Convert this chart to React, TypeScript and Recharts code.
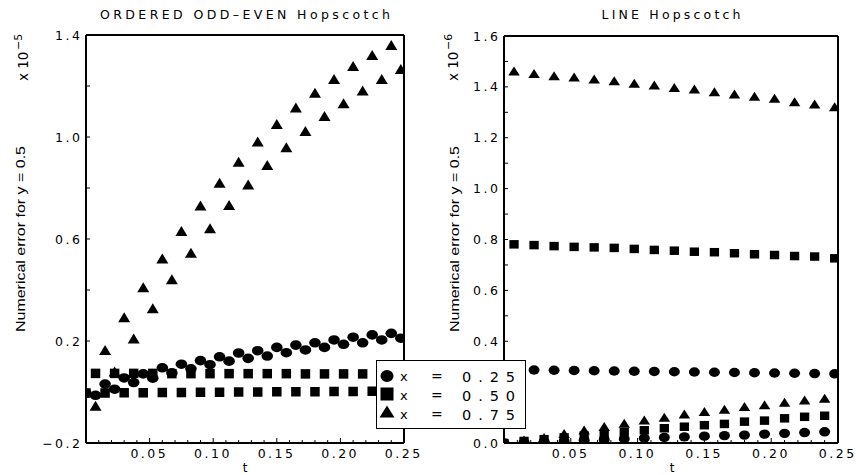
import React from 'react'
import { ScatterChart, Scatter, XAxis, YAxis, Legend } from 'recharts'

// time grid (both panels share it; odd/even steps alternate in hopscotch)
const T = [
  0, 0.0075, 0.015, 0.0225, 0.03, 0.0375, 0.045, 0.0525, 0.06, 0.0675, 0.075, 0.0825,
  0.09, 0.0975, 0.105, 0.1125, 0.12, 0.1275, 0.135, 0.1425, 0.15, 0.1575, 0.165, 0.1725,
  0.18, 0.1875, 0.195, 0.2025, 0.21, 0.2175, 0.225, 0.2325, 0.24, 0.2475
]

// ORDERED ODD-EVEN Hopscotch, error x 10^-5
const LEFT_X025 = [
  -0.005, -0.013, 0.031, 0.011, 0.055, 0.037, 0.071, 0.054, 0.095, 0.075, 0.109, 0.091,
  0.123, 0.107, 0.138, 0.121, 0.153, 0.132, 0.162, 0.141, 0.175, 0.154, 0.184, 0.165,
  0.193, 0.175, 0.204, 0.187, 0.215, 0.193, 0.224, 0.204, 0.23, 0.211
]
const LEFT_X050 = [
  -0.004, 0.073, -0.004, 0.073, -0.003, 0.073, -0.003, 0.073, -0.002, 0.072, -0.002, 0.072,
  -0.001, 0.072, -0.001, 0.072, 0.0, 0.072, 0.0, 0.072, 0.001, 0.072, 0.001, 0.071,
  0.001, 0.071, 0.002, 0.071, 0.002, 0.071, 0.003, 0.071, 0.003, 0.071
]
const LEFT_X075 = [
  0.0, -0.054, 0.165, 0.08, 0.293, 0.21, 0.411, 0.328, 0.524, 0.442, 0.631, 0.546,
  0.731, 0.642, 0.821, 0.733, 0.903, 0.814, 0.982, 0.89, 1.051, 0.96, 1.116, 1.024,
  1.174, 1.082, 1.227, 1.132, 1.278, 1.182, 1.322, 1.227, 1.361, 1.267
]

// LINE Hopscotch, error x 10^-6 (even steps / odd steps)
const RIGHT_X025_EVEN = [0, 0.003, 0.006, 0.008, 0.011, 0.013, 0.016, 0.019, 0.022, 0.024, 0.027, 0.029, 0.031, 0.035, 0.038, 0.041, 0.044]
const RIGHT_X025_ODD = [0.288, 0.287, 0.286, 0.285, 0.284, 0.283, 0.282, 0.281, 0.28, 0.279, 0.278, 0.277, 0.276, 0.275, 0.274, 0.273, 0.272]
const RIGHT_X050_EVEN = [0, 0.008, 0.015, 0.022, 0.029, 0.036, 0.043, 0.05, 0.058, 0.064, 0.07, 0.075, 0.084, 0.088, 0.097, 0.103, 0.107]
const RIGHT_X050_ODD = [0.781, 0.778, 0.774, 0.771, 0.769, 0.767, 0.763, 0.759, 0.756, 0.752, 0.75, 0.746, 0.742, 0.739, 0.735, 0.733, 0.726]
const RIGHT_X075_EVEN = [0, 0.012, 0.022, 0.037, 0.051, 0.065, 0.078, 0.09, 0.101, 0.114, 0.124, 0.133, 0.143, 0.15, 0.16, 0.169, 0.176]
const RIGHT_X075_ODD = [1.462, 1.453, 1.444, 1.439, 1.431, 1.424, 1.414, 1.407, 1.398, 1.392, 1.381, 1.372, 1.363, 1.355, 1.342, 1.333, 1.322]

const X_TICKS = [
  0, 0.01, 0.02, 0.03, 0.04, 0.05, 0.06, 0.07, 0.08, 0.09, 0.1, 0.11, 0.12, 0.13,
  0.14, 0.15, 0.16, 0.17, 0.18, 0.19, 0.2, 0.21, 0.22, 0.23, 0.24, 0.25
]
const LEFT_Y_TICKS = [-0.2, 0, 0.2, 0.4, 0.6, 0.8, 1.0, 1.2, 1.4]
const RIGHT_Y_TICKS = [0, 0.1, 0.2, 0.3, 0.4, 0.5, 0.6, 0.7, 0.8, 0.9, 1.0, 1.1, 1.2, 1.3, 1.4, 1.5, 1.6]
const LEGEND_LABELS = ['0.25', '0.50', '0.75']

const toPoints = (vals: number[]) => vals.map((v, i) => ({ t: T[i], v }))
const interleave = (even: number[], odd: number[]) =>
  T.map((t, i) => ({ t, v: i % 2 === 0 ? even[i / 2] : odd[(i - 1) / 2] }))

const SANS = '"DejaVu Sans", sans-serif'
const LS = 2.5
const tickText = { fontFamily: SANS, fontSize: 12.5, letterSpacing: LS, fill: '#000' }
const frame = { stroke: '#000', strokeWidth: 2 }

// markers
const ellipse = (rx: number, ry: number) => (p: any) => (
  <ellipse cx={p.cx} cy={p.cy} rx={rx} ry={ry} fill="#000" />
)
const square = (w: number, h: number) => (p: any) => (
  <rect x={p.cx - w / 2} y={p.cy - h / 2} width={w} height={h} fill="#000" />
)
const triangle = (w: number, h: number) => (p: any) => (
  <polygon
    points={`${p.cx - w / 2},${p.cy + h / 2} ${p.cx + w / 2},${p.cy + h / 2} ${p.cx},${p.cy - h / 2}`}
    fill="#000"
  />
)

// inward ticks
const isMajorT = (v: number) => Math.round(v * 100) % 5 === 0
const bottomTick = (p: any) => {
  const { x, y, payload } = p
  const v = payload.value
  const major = isMajorT(v)
  return (
    <g>
      <line x1={x} x2={x} y1={y} y2={y - (major ? 5 : 3)} stroke="#000" />
      {major && v > 0 && (
        <text x={x + LS / 2 - 1.5} y={y + 15} textAnchor="middle" style={tickText}>
          {v.toFixed(2)}
        </text>
      )}
    </g>
  )
}
const topTick = (p: any) => {
  const { x, y, payload } = p
  return <line x1={x} x2={x} y1={y} y2={y + (isMajorT(payload.value) ? 5 : 3)} stroke="#000" />
}
const leftTick = (labeled: (v: number) => boolean) => (p: any) => {
  const { x, y, payload } = p
  const v = payload.value
  return (
    <g>
      <line x1={x} x2={x + 4} y1={y} y2={y} stroke="#000" />
      {labeled(v) && (
        <text x={x - 6 + LS} y={y + 4.6} textAnchor="end" style={tickText}>
          {v.toFixed(1).replace('-', '\u2212')}
        </text>
      )}
    </g>
  )
}
const rightTick = (p: any) => {
  const { x, y } = p
  return <line x1={x} x2={x - 4} y1={y} y2={y} stroke="#000" />
}

const title = (text: string, cx: number, len: number) => () => (
  <text x={cx} y={19} textAnchor="middle" textLength={len} lengthAdjust="spacing"
    style={{ fontFamily: SANS, fontSize: 12.5, fill: '#000' }}>
    {text}
  </text>
)
const tLabel = (cx: number) => () => (
  <text x={cx} y={472} textAnchor="middle" style={{ fontFamily: SANS, fontSize: 12, fill: '#000' }}>t</text>
)
const yLabel = (bx: number, cy: number, mx: number, exp: string) => () => (
  <g>
    <text x={bx} y={cy} transform={`rotate(-90, ${bx}, ${cy})`} textAnchor="middle"
      textLength={186} lengthAdjust="spacingAndGlyphs"
      style={{ fontFamily: '"Liberation Sans", Arial, sans-serif', fontSize: 13.5, fill: '#000' }}>
      Numerical error for y = 0.5
    </text>
    <text x={mx} y={81} transform={`rotate(-90, ${mx}, 81)`}
      style={{ fontFamily: SANS, fontSize: 13.5, fill: '#000' }}>
      x 10
      <tspan dx={1.5} dy={-6} style={{ fontSize: 11 }}>{exp}</tspan>
    </text>
  </g>
)

const renderLegend = () => (
  <svg width={150} height={69} style={{ display: 'block' }}>
    <rect x={0.5} y={0.5} width={149} height={68} fill="#fff" stroke="#000" />
    {LEGEND_LABELS.map((lab, i) => {
      const cy = [16, 34, 51.5][i]
      const base = [22, 41, 60][i]
      const mark =
        i === 0 ? <ellipse cx={11} cy={cy} rx={6.5} ry={6} fill="#000" /> :
        i === 1 ? <rect x={4.5} y={cy - 6.5} width={13} height={13} fill="#000" /> :
        <polygon points={`${3.5},${cy + 6} ${18.5},${cy + 6} ${11},${cy - 6}`} fill="#000" />
      return (
        <g key={lab}>
          {mark}
          <text x={24} y={base - 1} style={{ fontFamily: SANS, fontSize: 13, fill: '#000' }}>x</text>
          <text x={55} y={base - 1} style={{ fontFamily: SANS, fontSize: 14, fill: '#000' }}>=</text>
          <text x={86} y={base} textLength={53} lengthAdjust="spacing"
            style={{ fontFamily: SANS, fontSize: 14.5, fill: '#000' }}>{lab}</text>
        </g>
      )
    })}
  </svg>
)

const App = () => (
  <div style={{ position: 'absolute', left: 0, top: 0, width: 856, height: 475, background: '#fff' }}>
    <div style={{ position: 'absolute', left: 0, top: 0, zIndex: 2 }}>
      <ScatterChart width={430} height={475} margin={{ top: 34, right: 25, bottom: 31, left: 85 }}>
        <XAxis xAxisId="b" type="number" dataKey="t" domain={[0, 0.25]} ticks={X_TICKS} interval={0}
          height={1} tickSize={0} tickMargin={0} tickLine={false} axisLine={frame} tick={bottomTick}
          allowDataOverflow label={tLabel(245)} />
        <XAxis xAxisId="top" orientation="top" type="number" domain={[0, 0.25]} ticks={X_TICKS}
          interval={0} height={1} tickSize={0} tickMargin={0} tickLine={false} axisLine={frame}
          tick={topTick} label={title('ORDERED ODD\u2013EVEN Hopscotch', 245, 290)} />
        <YAxis yAxisId="l" type="number" dataKey="v" domain={[-0.2, 1.4]} ticks={LEFT_Y_TICKS}
          interval={0} width={1} tickSize={0} tickMargin={0} tickLine={false} axisLine={frame}
          tick={leftTick((v) => Math.round((v + 0.2) * 10) % 4 === 0)} allowDataOverflow
          label={yLabel(25, 239, 28, '\u22125')} />
        <YAxis yAxisId="r" orientation="right" type="number" domain={[-0.2, 1.4]} ticks={LEFT_Y_TICKS}
          interval={0} width={1} tickSize={0} tickMargin={0} tickLine={false} axisLine={frame}
          tick={rightTick} />
        <Scatter name="x = 0.25" data={toPoints(LEFT_X025)} xAxisId="b" yAxisId="l"
          shape={ellipse(5.8, 4.8)} isAnimationActive={false} />
        <Scatter name="x = 0.50" data={toPoints(LEFT_X050)} xAxisId="b" yAxisId="l"
          shape={square(9.5, 9.5)} isAnimationActive={false} />
        <Scatter name="x = 0.75" data={toPoints(LEFT_X075)} xAxisId="b" yAxisId="l"
          shape={triangle(12, 10)} isAnimationActive={false} />
        <Legend layout="vertical" align="center" verticalAlign="middle" content={renderLegend}
          wrapperStyle={{ left: 376, top: 360, width: 150, height: 69 }} />
      </ScatterChart>
    </div>
    <div style={{ position: 'absolute', left: 430, top: 0, zIndex: 1 }}>
      <ScatterChart width={426} height={475} margin={{ top: 35, right: 17, bottom: 31, left: 73 }}>
        <XAxis xAxisId="b" type="number" dataKey="t" domain={[0, 0.25]} ticks={X_TICKS} interval={0}
          height={1} tickSize={0} tickMargin={0} tickLine={false} axisLine={frame} tick={bottomTick}
          allowDataOverflow label={tLabel(242)} />
        <XAxis xAxisId="top" orientation="top" type="number" domain={[0, 0.25]} ticks={X_TICKS}
          interval={0} height={1} tickSize={0} tickMargin={0} tickLine={false} axisLine={frame}
          tick={topTick} label={title('LINE Hopscotch', 241, 139)} />
        <YAxis yAxisId="l" type="number" dataKey="v" domain={[0, 1.6]} ticks={RIGHT_Y_TICKS}
          interval={0} width={1} tickSize={0} tickMargin={0} tickLine={false} axisLine={frame}
          tick={leftTick((v) => Math.round(v * 10) % 2 === 0)} allowDataOverflow
          label={yLabel(29, 239, 28, '\u22126')} />
        <YAxis yAxisId="r" orientation="right" type="number" domain={[0, 1.6]} ticks={RIGHT_Y_TICKS}
          interval={0} width={1} tickSize={0} tickMargin={0} tickLine={false} axisLine={frame}
          tick={rightTick} />
        <Scatter name="x = 0.25" data={interleave(RIGHT_X025_EVEN, RIGHT_X025_ODD)} xAxisId="b" yAxisId="l"
          shape={ellipse(5.5, 4.7)} isAnimationActive={false} />
        <Scatter name="x = 0.50" data={interleave(RIGHT_X050_EVEN, RIGHT_X050_ODD)} xAxisId="b" yAxisId="l"
          shape={square(9.3, 8.5)} isAnimationActive={false} />
        <Scatter name="x = 0.75" data={interleave(RIGHT_X075_EVEN, RIGHT_X075_ODD)} xAxisId="b" yAxisId="l"
          shape={triangle(11.5, 9)} isAnimationActive={false} />
      </ScatterChart>
    </div>
  </div>
)

export default App
